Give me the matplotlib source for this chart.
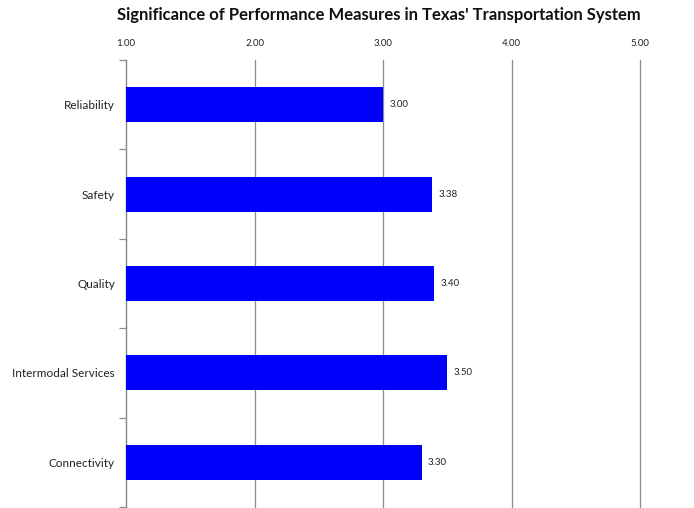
import matplotlib
matplotlib.use("Agg")
import matplotlib.pyplot as plt
import numpy as np

categories = ["Reliability", "Safety", "Quality", "Intermodal Services", "Connectivity"]
values = [3.00, 3.38, 3.40, 3.50, 3.30]
xticks = [1.0, 2.0, 3.0, 4.0, 5.0]
xtick_labels = ["1.00", "2.00", "3.00", "4.00", "5.00"]
title = "Significance of Performance Measures in Texas' Transportation System"

plt.rcParams['font.family'] = ['Lato', 'DejaVu Sans']

fig = plt.figure(figsize=(6.94, 5.08), dpi=100)
ax = fig.add_axes([126/694, 1 - 507/508, (640-126)/694, (507-60)/508])

y = np.arange(len(categories))
ax.barh(y, [v - 1.0 for v in values], left=1.0, height=0.39, color="#0000FF", zorder=3)
for yi, v in zip(y, values):
    ax.text(v + 0.05, yi, f"{v:.2f}", va="center", ha="left", fontsize=7, color="#222222")

ax.set_xlim(1, 5)
ax.set_ylim(len(categories) - 0.5, -0.5)
ax.xaxis.tick_top()
ax.set_xticks(xticks)
ax.set_xticklabels(xtick_labels, fontsize=7, color="#222222")
ax.tick_params(axis="x", length=0, pad=9)
ax.grid(axis="x", color="#8c8c8c", linewidth=0.9, zorder=0)
for gl in ax.get_xgridlines():
    gl.set_clip_on(False)

ax.set_yticks(y)
ax.set_yticklabels(categories, fontsize=8.5, color="#222222")
ax.tick_params(axis="y", which="major", length=0, pad=8)
ax.set_yticks(np.arange(-0.5, len(categories)), minor=True)
ax.tick_params(axis="y", which="minor", length=5, color="#8c8c8c", width=0.9)

for s in ["top", "right", "bottom"]:
    ax.spines[s].set_visible(False)
ax.spines["left"].set_color("#8c8c8c")
ax.spines["left"].set_linewidth(0.9)

fig.text(0.5454, 1 - 15/508, title, ha="center", va="center", fontsize=12, fontweight="bold", color="#111111")

fig.savefig("out.png", dpi=100)
